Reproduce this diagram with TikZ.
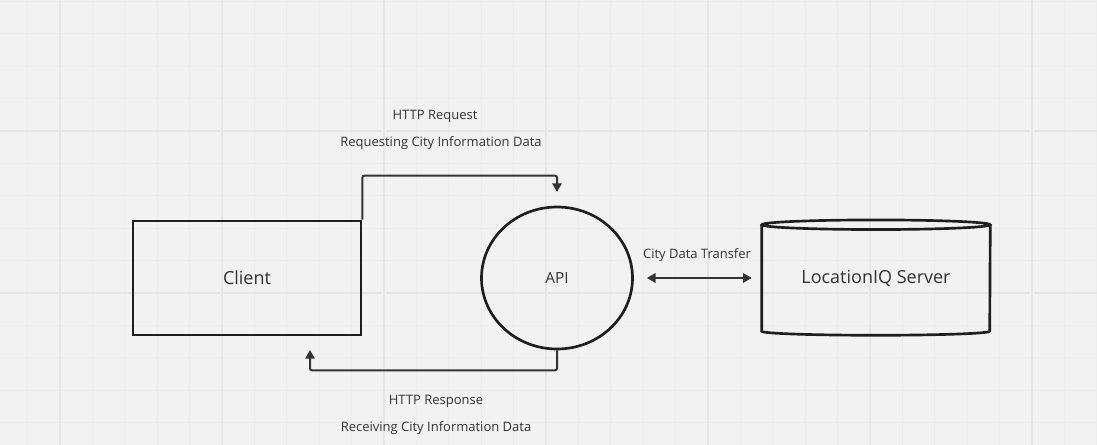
\documentclass[tikz,border=0pt]{standalone}
\usepackage{fontspec}
\setmainfont{Open Sans}
\usetikzlibrary{arrows.meta,shapes.geometric}
\definecolor{bg}{HTML}{F2F2F2}
\definecolor{gridminor}{HTML}{EDEDED}
\definecolor{gridmajor}{HTML}{E6E6E6}
\definecolor{ink}{HTML}{1E1E1E}
\definecolor{conn}{HTML}{333333}
\definecolor{txt}{HTML}{333333}
\tikzset{
  minorline/.style={draw=gridminor, line width=0.75pt},
  majorline/.style={draw=gridmajor, line width=1.1pt},
  shapebox/.style={draw=ink, line width=2pt, text=txt, font=\fontsize{13.5}{16}\selectfont, inner sep=0pt},
  lbl/.style={text=txt, font=\fontsize{9.75}{12}\selectfont, inner sep=0pt},
  arr/.style={draw=conn, line width=1.5pt, rounded corners=1.5pt, -{Triangle[length=6.5pt,width=7pt]}},
  arrtwo/.style={draw=conn, line width=1.5pt, {Triangle[length=6.5pt,width=7pt]}-{Triangle[length=6.5pt,width=7pt]}}
}
\begin{document}
\begin{tikzpicture}[x=0.75pt,y=-0.75pt]
\fill[bg] (0,0) rectangle (1097,445);
\useasboundingbox (0,0) rectangle (1097,445);
% grid
\foreach \i in {-2,...,33} \draw[minorline] ({60+32.4*\i},0) -- ({60+32.4*\i},445);
\foreach \i in {-5,...,10} \draw[minorline] (0,{131+32.4*\i}) -- (1097,{131+32.4*\i});
\foreach \i in {0,...,6} \draw[majorline] ({60+162*\i},0) -- ({60+162*\i},445);
\foreach \y in {131,293} \draw[majorline] (0,\y) -- (1097,\y);
% nodes
\node[shapebox, rectangle, minimum width=171pt, minimum height=85.5pt] (client) at (247,278) {Client};
\node[shapebox, ellipse, minimum width=113.25pt, minimum height=106.5pt] (api) at (557,278) {\fontsize{11.5}{14}\selectfont API};
\node[rectangle, text=txt, font=\fontsize{13.5}{16}\selectfont, minimum width=171pt, minimum height=79.5pt, inner sep=0pt] (server) at (876,278) {LocationIQ Server};
\draw[ink, line width=2pt] (server.north west) -- (server.south west)
  arc[start angle=180, end angle=360, x radius=85.5pt, y radius=3pt]
  -- (server.north east);
\draw[ink, line width=2pt] (server.north) ellipse [x radius=85.5pt, y radius=3.6pt];
% labels
\node[lbl] (reqa) at (435,116) {HTTP Request};
\node[lbl] (reqb) at (441,143) {Requesting City Information Data};
\node[lbl] (resa) at (436,401) {HTTP Response};
\node[lbl] (resb) at (436,428) {Receiving City Information Data};
\node[lbl] (xfer) at (697,255) {City Data Transfer};
% connectors
\coordinate (reqend) at (557,192);
\coordinate (resend) at (310,350);
\draw[arr] (client.north east) -- ++(0,-44) -| (reqend);
\draw[arr] (api.south) -- ++(0,20) -| (resend);
\draw[arrtwo, shorten <=9.75pt, shorten >=7.5pt] (api.east) -- (server.west);
\end{tikzpicture}
\end{document}
